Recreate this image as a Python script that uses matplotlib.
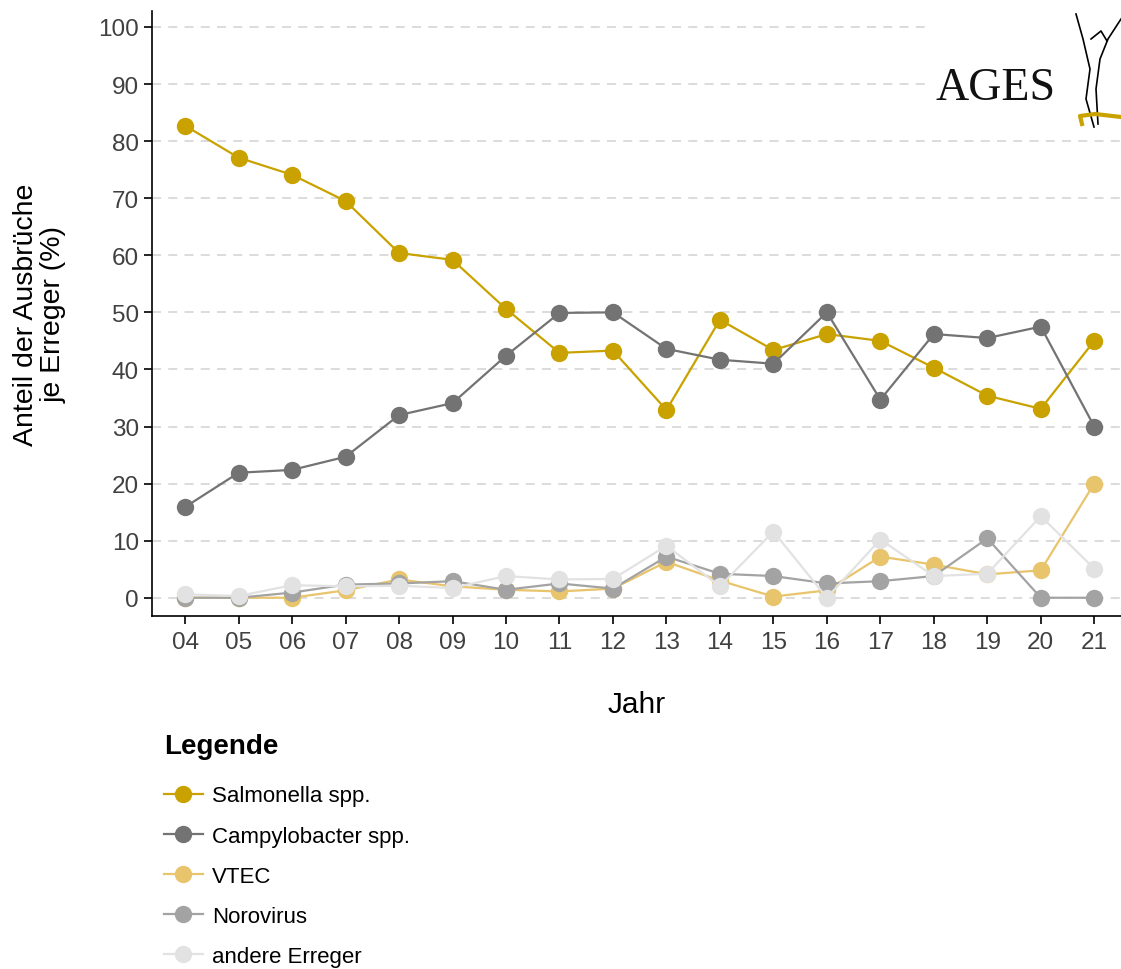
import numpy as np
import matplotlib
matplotlib.use("Agg")
import matplotlib.pyplot as plt
from matplotlib.lines import Line2D
from matplotlib.patches import Rectangle

plt.rcParams['font.family'] = ['Liberation Sans', 'DejaVu Sans']

years = ["04", "05", "06", "07", "08", "09", "10", "11", "12",
         "13", "14", "15", "16", "17", "18", "19", "20", "21"]

salmonella = [82.7, 77.1, 74.1, 69.5, 60.4, 59.2, 50.6, 42.9, 43.3,
              32.9, 48.7, 43.4, 46.2, 45.0, 40.3, 35.4, 33.1, 45.0]
campylobacter = [15.9, 21.9, 22.4, 24.7, 32.0, 34.1, 42.4, 49.9, 50.0,
                 43.6, 41.7, 41.0, 50.0, 34.7, 46.2, 45.5, 47.5, 30.0]
vtec = [0.0, 0.0, 0.0, 1.3, 3.2, 2.0, 1.4, 1.1, 1.6,
        6.3, 3.0, 0.2, 1.3, 7.2, 5.8, 4.1, 4.8, 20.0]
norovirus = [0.0, 0.0, 0.9, 2.3, 2.5, 2.9, 1.4, 2.5, 1.6,
             7.2, 4.2, 3.8, 2.5, 2.9, 3.8, 10.4, 0.0, 0.0]
andere = [0.6, 0.3, 2.2, 2.0, 2.1, 1.7, 3.8, 3.2, 3.3,
          9.1, 2.0, 11.6, 0.0, 10.2, 3.8, 4.2, 14.3, 5.1]

series_names = ["Salmonella spp.", "Campylobacter spp.", "VTEC", "Norovirus", "andere Erreger"]
series_values = [salmonella, campylobacter, vtec, norovirus, andere]
series_colors = ["#C9A200", "#737373", "#E8C46C", "#A3A3A3", "#E2E2E2"]

fig = plt.figure(figsize=(11.21, 9.70), dpi=100)
ax = fig.add_axes([152/1121, 1 - 617/970, 1 - 152/1121, (617 - 12)/970])

x = np.arange(len(years))
handles = []
for name, vals, col in zip(series_names, series_values, series_colors):
    h, = ax.plot(x, vals, color=col, lw=1.6, marker='o', markersize=12.5,
                 markeredgewidth=0, label=name, clip_on=False)
    handles.append(h)

ax.set_xlim(-0.62, 17.5)
ax.set_ylim(-3.2, 102.8)
ax.set_xticks(x)
ax.set_xticklabels(years)
ax.set_yticks(np.arange(0, 101, 10))
for yv in np.arange(0, 101, 10):
    ax.axhline(yv, color='#D9D9D9', lw=1.3, ls=(0, (5, 4)), zorder=0)

for s in ['top', 'right']:
    ax.spines[s].set_visible(False)
for s in ['left', 'bottom']:
    ax.spines[s].set_linewidth(1.2)
ax.tick_params(axis='both', labelsize=17.5, colors='black', length=6, width=1.2,
               labelcolor='#404040')
ax.tick_params(axis='x', pad=5)

ax.set_ylabel("Anteil der Ausbrüche\nje Erreger (%)", fontsize=20.5, linespacing=1.1)
ax.yaxis.set_label_coords(-0.088, 0.5)
ax.set_xlabel("Jahr", fontsize=21.5)
ax.xaxis.set_label_coords(0.5, -0.122)

leg = fig.legend(handles=handles, loc='upper left',
                 bbox_to_anchor=(144/1121, 1 - 714/970),
                 title="Legende", frameon=False, fontsize=16,
                 title_fontproperties={'weight': 'bold', 'size': 20},
                 labelspacing=0.86, handlelength=1.75, handletextpad=0.4,
                 markerscale=1.0)
leg._legend_box.align = "left"
leg._legend_box.sep = 19

# logo with white background covering the top grid lines
fig.add_artist(Rectangle((930/1121, 1 - 112/970), 191/1121, 112/970,
                         facecolor='white', edgecolor='none',
                         transform=fig.transFigure, zorder=1))
fig.text(935/1121, 1 - 100/970, "AGES", family='Liberation Serif',
         fontsize=33, color='#111111', ha='left', va='baseline', zorder=3)
fig.add_artist(Line2D([1076/1121, 1083/1121, 1090/1121, 1086/1121, 1094/1121],
                      [1 - 15/970, 1 - 40/970, 1 - 70/970, 1 - 100/970, 1 - 128/970],
                      color='black', lw=1.2, transform=fig.transFigure, zorder=3))
fig.add_artist(Line2D([1121/1121, 1108/1121, 1100/1121, 1096/1121, 1098/1121],
                      [1 - 20/970, 1 - 40/970, 1 - 60/970, 1 - 90/970, 1 - 125/970],
                      color='black', lw=1.2, transform=fig.transFigure, zorder=3))
fig.add_artist(Line2D([1091/1121, 1101/1121, 1107/1121],
                      [1 - 40/970, 1 - 32/970, 1 - 42/970],
                      color='black', lw=1.2, transform=fig.transFigure, zorder=3))
fig.add_artist(Line2D([1082/1121, 1080/1121, 1095/1121, 1121/1121],
                      [1 - 125/970, 1 - 117/970, 1 - 115/970, 1 - 118/970],
                      color='#C9A200', lw=3, transform=fig.transFigure, zorder=3))

fig.savefig("out.png", dpi=100)
